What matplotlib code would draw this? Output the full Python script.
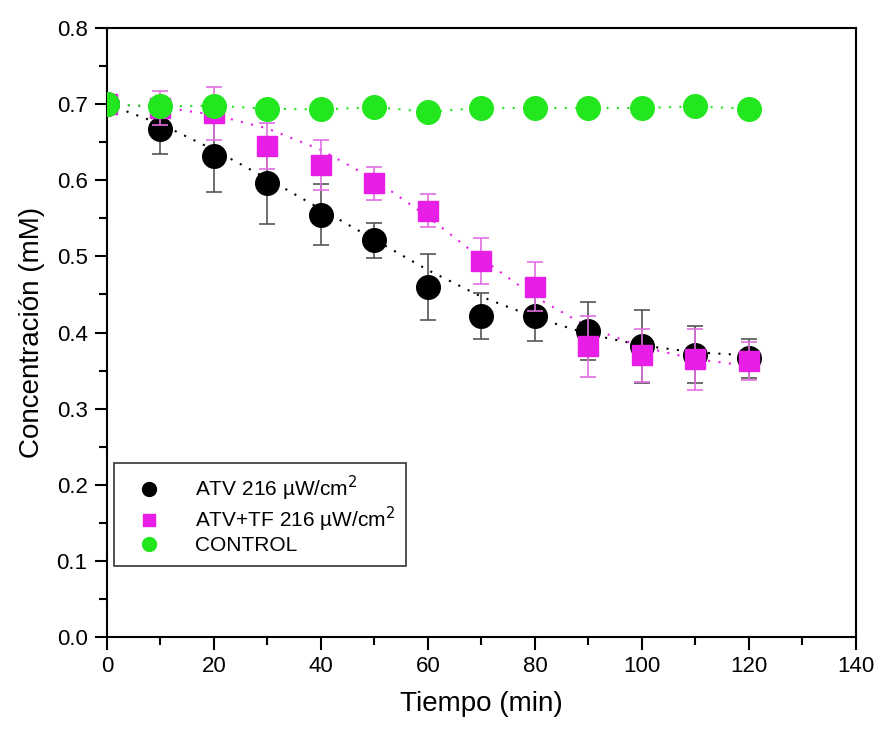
import numpy as np
import matplotlib
matplotlib.use("Agg")
import matplotlib.pyplot as plt
from matplotlib.lines import Line2D

plt.rcParams['font.family'] = ['Liberation Sans', 'DejaVu Sans']

# time points (min)
tiempo = [0, 10, 20, 30, 40, 50, 60, 70, 80, 90, 100, 110, 120]

# ATV 216 uW/cm2
atv = [0.700, 0.668, 0.632, 0.596, 0.555, 0.521, 0.460, 0.422, 0.422, 0.402, 0.382, 0.371, 0.366]
atv_err = [0.0, 0.033, 0.047, 0.053, 0.040, 0.023, 0.043, 0.030, 0.033, 0.038, 0.048, 0.037, 0.026]
atv_fit = [0.700, 0.674, 0.640, 0.602, 0.562, 0.522, 0.482, 0.447, 0.420, 0.398, 0.383, 0.374, 0.370]

# ATV+TF 216 uW/cm2
tf = [0.700, 0.695, 0.688, 0.645, 0.620, 0.596, 0.560, 0.494, 0.460, 0.382, 0.370, 0.365, 0.362]
tf_err = [0.0, 0.022, 0.035, 0.030, 0.033, 0.022, 0.022, 0.030, 0.032, 0.040, 0.035, 0.040, 0.025]
tf_fit = [0.700, 0.696, 0.686, 0.668, 0.640, 0.601, 0.552, 0.497, 0.447, 0.407, 0.381, 0.365, 0.356]

# control
control = [0.700, 0.697, 0.698, 0.694, 0.693, 0.696, 0.690, 0.695, 0.695, 0.695, 0.695, 0.697, 0.694]

labels = [r'ATV 216 µW/cm$^2$', r'ATV+TF 216 µW/cm$^2$', 'CONTROL']

black = '#000000'
magenta = '#e61ee6'
green = '#22e61e'

fig = plt.figure(figsize=(8.79, 7.30), dpi=100)
ax = fig.add_axes([0.1217, 0.1274, 0.8521, 0.8342])

# fitted curves (dotted)
ax.plot(tiempo, atv_fit, ls=(0, (1, 4)), lw=1.5, c=black, zorder=2)
ax.plot(tiempo, tf_fit, ls=(0, (1, 4)), lw=1.5, c=magenta, zorder=2)
ax.plot(tiempo, control, ls=(0, (1, 4)), lw=1.5, c=green, zorder=2)

# data with error bars
ax.errorbar(tiempo, atv, yerr=atv_err, fmt='o', ms=17, mfc=black, mec=black,
            ecolor='#555555', elinewidth=1.2, capsize=6, capthick=1.2, zorder=3)
ax.errorbar(tiempo, tf, yerr=tf_err, fmt='s', ms=15, mfc=magenta, mec=magenta,
            ecolor='#e070e0', elinewidth=1.2, capsize=6, capthick=1.2, zorder=4)
ax.plot(tiempo, control, 'o', ms=17, c=green, zorder=5)

ax.set_xlim(0, 140)
ax.set_ylim(0.0, 0.8)
ax.set_xticks(np.arange(0, 141, 20))
ax.set_xticks(np.arange(10, 140, 20), minor=True)
ax.set_yticks(np.arange(0, 0.81, 0.1))
ax.set_yticks(np.arange(0.05, 0.8, 0.1), minor=True)
ax.set_yticklabels([f'{v:.1f}' for v in np.arange(0, 0.81, 0.1)])

ax.tick_params(which='major', direction='out', length=9, width=1.5, labelsize=16, pad=5)
ax.tick_params(which='minor', direction='out', length=6, width=1.5)
for s in ax.spines.values():
    s.set_linewidth(1.5)

ax.set_xlabel('Tiempo (min)', fontsize=20, labelpad=10)
ax.set_ylabel('Concentración (mM)', fontsize=20, labelpad=8)

handles = [Line2D([], [], ls='none', marker='o', ms=10, c=black),
           Line2D([], [], ls='none', marker='s', ms=9, c=magenta),
           Line2D([], [], ls='none', marker='o', ms=10, c=green)]
leg = ax.legend(handles, labels, loc='lower left', bbox_to_anchor=(0.009, 0.117),
                fontsize=15, frameon=True, fancybox=False, edgecolor='black',
                handletextpad=1.0, borderpad=0.5, labelspacing=0.1, handlelength=2.4,
                borderaxespad=0)
leg.get_frame().set_linewidth(1.2)

fig.savefig('out.png', dpi=100)
